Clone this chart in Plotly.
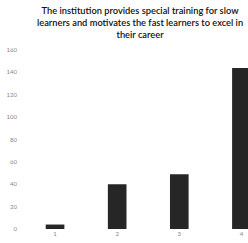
import plotly.graph_objects as go

categories = [1, 2, 3, 4]
values = [4, 40, 49, 144]
y_ticks = [0, 20, 40, 60, 80, 100, 120, 140, 160]
title_text = ("The institution provides special training for slow<br>"
              "learners and motivates the fast learners to excel in<br>"
              "their career")

W, H = 248, 243
M = dict(l=24, r=0, t=50, b=14)
plot_h = H - M["t"] - M["b"]
plot_w = W - M["l"] - M["r"]

fig = go.Figure()
fig.add_trace(go.Bar(
    x=categories, y=values, width=0.3,
    marker=dict(color="#262626", line=dict(width=0)),
))

fig.update_layout(
    width=W, height=H,
    margin=M,
    paper_bgcolor="white", plot_bgcolor="white",
    showlegend=False,
    annotations=[dict(text=title_text,
                      x=(140 - M["l"]) / plot_w, xref="paper", xanchor="center",
                      y=1 + (M["t"] - 3) / plot_h, yref="paper", yanchor="top",
                      showarrow=False,
                      font=dict(family="Lato", size=9.3, color="#111111", weight=600))],
    xaxis=dict(range=[0.5, 4.106], tickvals=categories, ticktext=[str(c) for c in categories],
               showgrid=False, zeroline=False, showline=False, ticks="",
               automargin=False, ticklabelstandoff=0,
               tickfont=dict(family="Lato", size=6, color="#888888")),
    yaxis=dict(range=[0, 160], tickvals=y_ticks, ticktext=[str(t) for t in y_ticks],
               showgrid=False, zeroline=False, showline=False, ticks="",
               automargin=False, ticklabelstandoff=6,
               tickfont=dict(family="Lato", size=6, color="#888888")),
)

fig.write_html("out.html", config={"displayModeBar": False},
               post_script="document.body.style.margin='0';document.body.style.overflow='hidden';")
